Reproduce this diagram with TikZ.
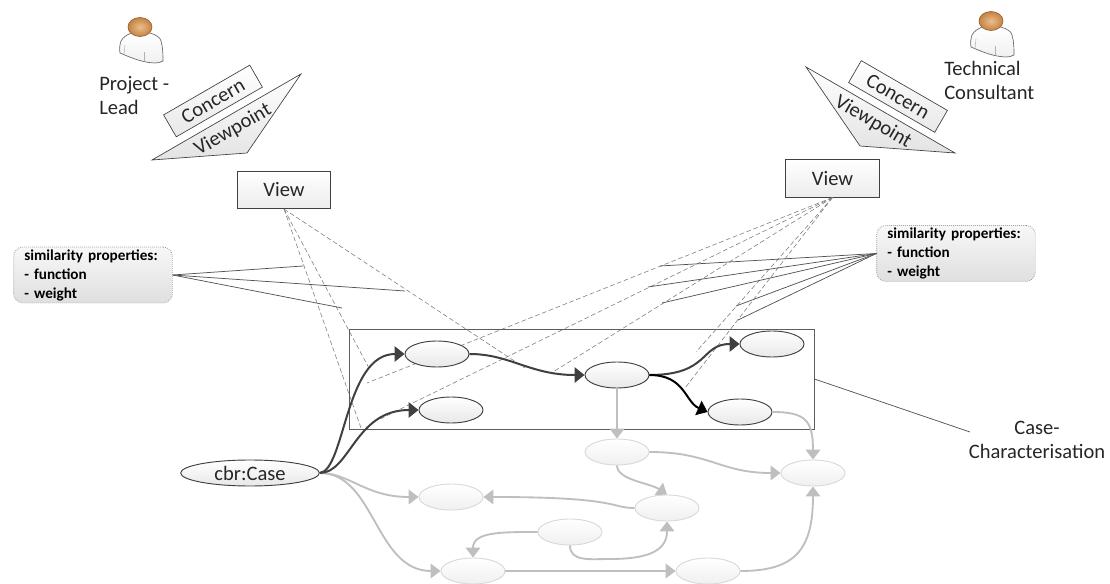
\documentclass[tikz,border=0pt]{standalone}
\usepackage{fontspec}
\setmainfont{Carlito}
\usetikzlibrary{arrows.meta,shapes.geometric}
\definecolor{darkl}{HTML}{404040}
\definecolor{greyl}{HTML}{BFBFBF}
\definecolor{headin}{HTML}{EDBE8E}
\definecolor{headout}{HTML}{C28442}
\tikzset{
  lbl/.style={inner sep=0pt,font=\fontsize{15.4}{18}\selectfont,align=center,text=black!85},
  tri/.style={draw=darkl,line width=0.5pt,top color=white,bottom color=gray!22},
  concernbox/.style={draw=darkl,line width=0.5pt,top color=white,bottom color=gray!18,minimum width=74.6pt,minimum height=19pt,inner sep=0pt,font=\fontsize{15.4}{16}\selectfont,text=black!85},
  viewbox/.style={draw=darkl,line width=0.6pt,top color=white,bottom color=gray!15,minimum width=70pt,minimum height=28pt,inner sep=0pt,font=\fontsize{15.4}{16}\selectfont,text=black!85},
  simbox/.style={draw=gray,densely dotted,line width=0.5pt,rounded corners=7pt,top color=gray!6,bottom color=gray!25,minimum width=119pt,minimum height=42pt,inner sep=0pt,font=\fontsize{11.4}{14.25}\selectfont\bfseries,align=left,text width=103pt},
  darkell/.style={draw=darkl,line width=0.7pt,ellipse,top color=white,bottom color=gray!18,minimum width=48pt,minimum height=19.5pt,inner sep=0pt},
  greyell/.style={draw=gray!30,line width=0.7pt,ellipse,top color=white,bottom color=gray!12,minimum width=48pt,minimum height=19.5pt,inner sep=0pt},
  caseell/.style={darkell,minimum width=104pt,font=\fontsize{15.4}{16}\selectfont,text=black!85},
  dashl/.style={gray,line width=0.45pt,dash pattern=on 3.5pt off 2pt},
  soll/.style={darkl!90,line width=0.55pt},
  darkarr/.style={darkl,line width=1.5pt,-{Triangle[length=7.5pt,width=11.5pt]}},
  blackarr/.style={black,line width=1.5pt,-{Triangle[length=7.5pt,width=11.5pt]}},
  greyarr/.style={greyl,line width=1.4pt,-{Triangle[length=7.5pt,width=11pt]}},
  frameb/.style={draw=darkl!85,line width=0.65pt},
}
\newcommand{\persondraw}[2]{%
  \begin{scope}[shift={(#1,#2)}]
    \path[draw=gray!80!black,line width=0.5pt,top color=white,bottom color=gray!12]
      (121,41) .. controls (123,37) and (127,35) .. (131,33)
      -- (150,33) .. controls (156,35) and (160,37) .. (161,41)
      .. controls (163,48) and (163,55) .. (163,61)
      .. controls (158,64) and (152,63) .. (146,62)
      .. controls (136,60) and (127,56) .. (120,53)
      .. controls (119,49) and (120,44) .. (121,41) -- cycle;
    \draw[gray!60,line width=0.4pt] (125,45) -- (124,54);
    \draw[gray!60,line width=0.4pt] (144,52) -- (144,61);
    \path[draw=brown!80!black,line width=0.5pt,inner color=headin,outer color=headout] (140,27) ellipse [x radius=12,y radius=9.5];
  \end{scope}}
\begin{document}
\begin{tikzpicture}[x=0.75pt,y=-0.75pt]
\useasboundingbox (0,0) rectangle (1110,584);
\persondraw{0}{0}
\persondraw{851}{-6}
% labels
\node[lbl,align=left,anchor=west] (plead) at (99,96) {Project -\\Lead};
\node[lbl,align=left,anchor=west] (tech) at (944,80) {Technical\\Consultant};
% triangles + concern
\path[tri] (152,160) -- (301,74) -- (247,153) -- cycle;
\path[tri] (806,67) -- (955,153) -- (860,146) -- cycle;
\node[concernbox,rotate=30] (c1) at (213,101) {Concern};
\node[concernbox,rotate=-30] (c2) at (898,96.5) {Concern};
\node[inner sep=0pt,font=\fontsize{15.4}{16}\selectfont,text=black!85,rotate=30] (vp1) at (233,130) {Viewpoint};
\node[inner sep=0pt,font=\fontsize{15.4}{16}\selectfont,text=black!85,rotate=-30] (vp2) at (873,122) {Viewpoint};
% views
\node[viewbox] (v1) at (284,190) {View};
\node[viewbox] (v2) at (832.5,178.5) {View};
% similarity boxes
\node[simbox] (s1) at (93,275) {similarity properties:\\- function\\- weight};
\node[simbox] (s2) at (956,253.5) {similarity properties:\\- function\\- weight};
% free-end coordinates
\coordinate (d1) at (361,428);
\coordinate (d2) at (370,370);
\coordinate (d3) at (525,368);
\coordinate (d4) at (367,383);
\coordinate (d5) at (378,420);
\coordinate (d6) at (553,372);
\coordinate (d7) at (696,352);
\coordinate (d8) at (685,388);
\coordinate (l1) at (303,266);
\coordinate (l2) at (405,291);
\coordinate (l3) at (342,308);
\coordinate (r1) at (660,266);
\coordinate (r2) at (648,287);
\coordinate (r3) at (662,303);
\coordinate (r4) at (736,306);
\coordinate (r5) at (738,320);
\coordinate (caselead) at (970,432);
% dashed
\foreach \t in {d1,d2,d3} \draw[dashl] (v1.south) -- (\t);
\foreach \t in {d4,d5,d6,d7,d8} \draw[dashl] (v2.south) -- (\t);
% solid leaders
\foreach \t in {l1,l2,l3} \draw[soll] (s1.east) -- (\t);
\foreach \t in {r1,r2,r3,r4,r5} \draw[soll] (s2.west) -- (\t);
% case box
\node[frameb,minimum width=348.75pt,minimum height=75pt,inner sep=0pt] (cbox) at (581.5,379) {};
\draw[soll] (cbox.east) -- (caselead);
\node[lbl] (clabel) at (1037,440) {Case-\\Characterisation};
% ellipses
\node[darkell] (e1) at (437,354) {};
\node[darkell] (e2) at (451,410) {};
\node[darkell] (e3) at (617,375) {};
\node[darkell] (e4) at (772,344) {};
\node[darkell] (e5) at (740,412) {};
\node[greyell] (g1) at (617,452) {};
\node[greyell] (g2) at (813,473) {};
\node[greyell] (g3) at (667,508) {};
\node[greyell] (g4) at (570,532) {};
\node[greyell] (g5) at (708,571) {};
\node[greyell] (g6) at (451,497) {};
\node[greyell] (g7) at (473,571) {};
\node[caseell] (cbr) at (250,473) {cbr:Case};
% grey edges
\draw[greyarr] (cbr.east) .. controls (350,473) and (365,497) .. (g6.west);
\draw[greyarr] (cbr.east) .. controls (375,473) and (375,571) .. (g7.west);
\draw[greyarr] (e3.south) -- (g1.north);
\draw[greyarr] (e5.east) .. controls (805,412) and (813,420) .. (g2.north);
\draw[greyarr] (g1.east) .. controls (710,452) and (720,473) .. (g2.west);
\draw[greyarr] (g1.south) .. controls (617,480) and (650,483) .. (g3.north);
\draw[greyarr] (g3.west) .. controls (610,508) and (620,497) .. (g6.east);
\draw[greyarr] (g4.west) .. controls (500,532) and (473,532) .. (g7.north);
\draw[greyarr] (g4.south) .. controls (570,562) and (590,559) .. (610,559) .. controls (650,559) and (667,550) .. (g3.south);
\draw[greyarr] (g7.east) -- (g5.west);
\draw[greyarr] (g5.east) .. controls (795,571) and (813,550) .. (g2.south);
% dark edges
\draw[darkarr] (cbr.east) .. controls (345,470) and (345,354) .. (e1.west);
\draw[darkarr] (cbr.east) .. controls (350,473) and (355,410) .. (e2.west);
\draw[darkarr] (e1.east) .. controls (510,354) and (530,375) .. (e3.west);
\draw[darkarr] (e3.east) .. controls (710,375) and (700,344) .. (e4.west);
\draw[blackarr] (e3.east) .. controls (685,375) and (685,402) .. (e5.west);
\end{tikzpicture}
\end{document}
